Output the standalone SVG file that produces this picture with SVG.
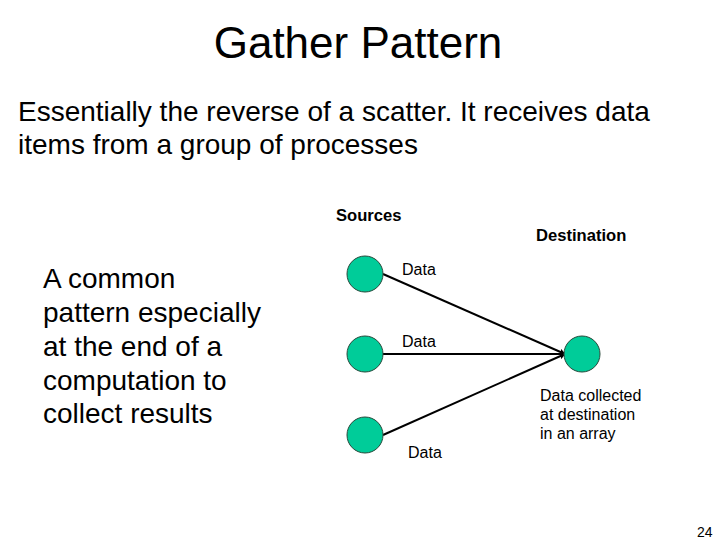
<svg xmlns="http://www.w3.org/2000/svg" width="720" height="540" viewBox="0 0 720 540">
<style>
text{font-family:"Liberation Sans",Arial,sans-serif;fill:#000}
.big{font-size:28px}
.lbl{font-size:16px}
.hd{font-size:16.6px;font-weight:bold}
.node{fill:#00cc99;stroke:#2b4a3c;stroke-width:1}
.edge{stroke:#000;stroke-width:2;fill:none}
</style>
<defs>
<marker id="arr" viewBox="0 0 10 10" refX="9" refY="5" markerWidth="6" markerHeight="6" markerUnits="userSpaceOnUse" orient="auto">
<path d="M0,0 L10,5 L0,10 z" fill="#000"/>
</marker>
</defs>
<rect width="720" height="540" fill="#fff"/>
<text x="358" y="58" font-size="44" text-anchor="middle">Gather Pattern</text>
<text class="big" x="18" y="121">Essentially the reverse of a scatter. It receives data</text>
<text class="big" x="18" y="154">items from a  group of processes</text>
<text class="big" x="43" y="288">A common</text>
<text class="big" x="43" y="322">pattern especially</text>
<text class="big" x="43" y="356">at the end of a</text>
<text class="big" x="43" y="390">computation to</text>
<text class="big" x="43" y="423">collect results</text>
<text class="hd" x="336" y="221">Sources</text>
<text class="hd" x="536" y="241">Destination</text>
<g id="connectors">
<line class="edge" x1="383" y1="274" x2="565" y2="354" marker-end="url(#arr)"/>
<line class="edge" x1="383" y1="354" x2="565" y2="354" marker-end="url(#arr)"/>
<line class="edge" x1="383" y1="435" x2="565" y2="354" marker-end="url(#arr)"/>
</g>
<g id="src1"><circle class="node" cx="365" cy="274" r="18"/></g>
<g id="src2"><circle class="node" cx="365" cy="354" r="18"/></g>
<g id="src3"><circle class="node" cx="365" cy="435" r="18"/></g>
<g id="dest"><circle class="node" cx="582" cy="354" r="18"/></g>
<text class="lbl" x="402" y="275">Data</text>
<text class="lbl" x="402" y="347">Data</text>
<text class="lbl" x="408" y="458">Data</text>
<text class="lbl" x="540" y="401">Data collected</text>
<text class="lbl" x="540" y="420">at destination</text>
<text class="lbl" x="540" y="439">in an array</text>
<text x="697" y="537" font-size="14">24</text>
</svg>
